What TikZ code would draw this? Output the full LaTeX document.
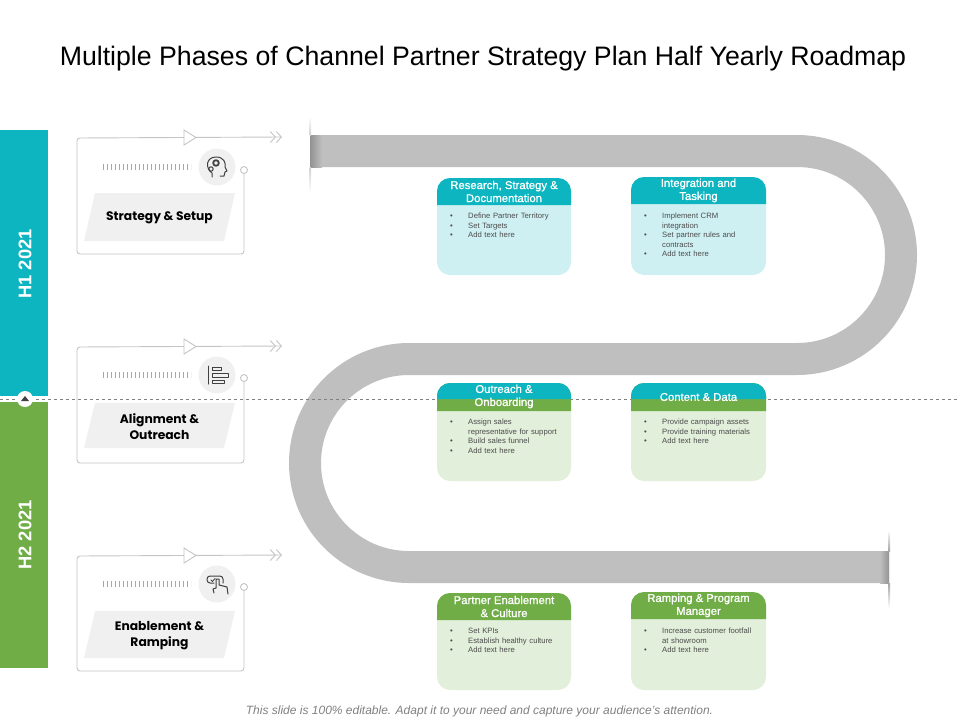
\documentclass[tikz,border=0pt]{standalone}
\usepackage{fontspec}
\usepackage{xcolor}
\setmainfont{Liberation Sans}
\newfontfamily\cardfont{Poppins}
\newfontfamily\headfont[FakeBold=1]{Liberation Sans}
\usetikzlibrary{
    arrows.meta,
    positioning
}
\definecolor{tealbar}{HTML}{0CB5BF}
\definecolor{greenbar}{HTML}{70AD47}
\definecolor{tealbody}{HTML}{CFF0F3}
\definecolor{greenbody}{HTML}{E2EFDA}
\definecolor{roadgray}{HTML}{BFBFBF}
\definecolor{cardgray}{HTML}{C4C4C4}
\definecolor{softgray}{HTML}{F0F0F0}
\definecolor{icongray}{HTML}{404040}
\tikzset{
    cardline/.style={draw=cardgray, line width=0.9pt},
    carddot/.style={circle, draw=cardgray, fill=white, line width=0.9pt, minimum size=7pt, inner sep=0pt},
    carddisc/.style={circle, fill=softgray, minimum size=37pt, inner sep=0pt},
    cardtitle/.style={align=center, font=\cardfont\bfseries\fontsize{12.3}{16}\selectfont, text=black},
    tickstrip/.style={draw=gray!70, line width=6pt, dash pattern=on 0.8pt off 3.2pt},
    iconline/.style={draw=icongray, line width=1pt, line join=round, line cap=round},
    barlabel/.style={rotate=90, font=\bfseries\fontsize{18.3}{20}\selectfont, text=white},
    tealpanel/.style={fill=tealbody, rounded corners=13pt, minimum width=134pt, minimum height=97pt, inner sep=0pt},
    greenpanel/.style={fill=greenbody, rounded corners=13pt, minimum width=134pt, minimum height=97pt, inner sep=0pt},
    panelhead/.style={align=center, text=white, font=\headfont\fontsize{11.3}{13}\selectfont},
    panellist/.style={anchor=north west, text width=122pt, inner sep=0pt, text=black!70, font=\fontsize{7.7}{9.5}\selectfont}
}
\newcommand{\itm}[1]{\par\hangindent=18pt\hangafter=1\noindent\makebox[18pt][l]{\textbullet}#1}

\begin{document}
\begin{tikzpicture}[x=1pt, y=-1pt]
    \useasboundingbox (0, 0) rectangle (960, 720);

    \node[font=\fontsize{26.7}{30}\selectfont] (title) at (483, 58.5) {Multiple Phases of Channel Partner Strategy Plan Half Yearly Roadmap};
    \node[font=\itshape\fontsize{12}{14}\selectfont, text=gray] (footer) at (479.5, 711.5) {This slide is 100\% editable. Adapt it to your need and capture your audience's attention.};

    % road
    \draw[roadgray, line width=32pt] (310, 151) -- (797, 151)
        arc[start angle=-90, end angle=90, radius=104] -- (409, 359)
        arc[start angle=-90, end angle=-270, radius=104] -- (889, 567);
    \shade[left color=gray!85, right color=roadgray] (310, 135) rectangle (322, 167);
    \shade[left color=roadgray, right color=gray!85] (880, 551) rectangle (889, 583);
    \shade[top color=white, bottom color=gray!35] (309.5, 116) rectangle (311, 135);
    \shade[top color=gray!35, bottom color=white] (309.5, 167) rectangle (311, 193);
    \shade[top color=white, bottom color=gray!70] (888, 530) rectangle (890, 551);
    \shade[top color=gray!70, bottom color=white] (888, 583) rectangle (890, 608);

    % half year bars
    \draw[gray, dashed, line width=0.8pt] (0, 399) -- (965, 399);
    \fill[tealbar] (0, 130) rectangle (48, 396);
    \fill[greenbar] (0, 402) rectangle (48, 668);
    \node[barlabel] (hone) at (25, 264) {H1 2021};
    \node[barlabel] (htwo) at (25, 535) {H2 2021};
    \node[circle, fill=white, minimum size=16pt, inner sep=0pt] (mark) at (25, 399) {};
    \fill[icongray] (21, 401) -- (25, 396) -- (29, 401) -- cycle;

    % strategy card
    \node[carddot] (dotA) at (244, 170) {};
    \draw[cardline, rounded corners=3pt, -{Straight Barb[length=5pt, width=11pt] Straight Barb[length=5pt, width=11pt]}]
        (dotA) -- (244, 254) -- (77, 254) -- (77, 138) -- (282, 137);
    \draw[cardline, fill=white] (184, 130) -- (196, 137.5) -- (184, 145) -- cycle;
    \draw[tickstrip] (103, 167) -- (191, 167);
    \node[carddisc] (discA) at (217, 167) {};
    \fill[softgray] (95, 193) -- (235, 193) -- (224, 241) -- (84, 241) -- cycle;
    \node[cardtitle] (cardA) at (159.5, 217.5) {Strategy \& Setup};
    \draw[iconline] (212, 177) -- (212, 173) .. controls (205, 168) and (206, 157) .. (216, 157)
        .. controls (224, 157) and (226, 163) .. (225, 167) -- (227, 171) -- (225, 172) -- (224, 176) -- (220, 176);
    \draw[iconline, line width=1.8pt] (216, 163) circle (2.8);
    \draw[iconline] (211, 169) circle (2.2);

    % alignment card
    \node[carddot] (dotB) at (244, 378) {};
    \draw[cardline, rounded corners=3pt, -{Straight Barb[length=5pt, width=11pt] Straight Barb[length=5pt, width=11pt]}]
        (dotB) -- (244, 463) -- (77, 463) -- (77, 347) -- (282, 346);
    \draw[cardline, fill=white] (184, 339) -- (196, 346.5) -- (184, 354) -- cycle;
    \draw[tickstrip] (103, 375) -- (191, 375);
    \node[carddisc] (discB) at (217, 375) {};
    \fill[softgray] (95, 403) -- (235, 403) -- (224, 448) -- (84, 448) -- cycle;
    \node[cardtitle] (cardB) at (159.5, 426.5) {Alignment \&\\Outreach};
    \draw[iconline] (208, 366) -- (208, 384);
    \draw[iconline] (212, 367) rectangle (221, 370.5);
    \draw[iconline] (212, 373.5) rectangle (228, 377);
    \draw[iconline] (212, 380) rectangle (224, 383.5);

    % enablement card
    \node[carddot] (dotC) at (244, 587) {};
    \draw[cardline, rounded corners=3pt, -{Straight Barb[length=5pt, width=11pt] Straight Barb[length=5pt, width=11pt]}]
        (dotC) -- (244, 671) -- (77, 671) -- (77, 556) -- (282, 555);
    \draw[cardline, fill=white] (184, 548) -- (196, 555.5) -- (184, 563) -- cycle;
    \draw[tickstrip] (103, 584) -- (191, 584);
    \node[carddisc] (discC) at (217, 584) {};
    \fill[softgray] (95, 611) -- (235, 611) -- (224, 658) -- (84, 658) -- cycle;
    \node[cardtitle] (cardC) at (159.5, 635.5) {Enablement \&\\Ramping};
    \draw[iconline, rounded corners=3pt] (214, 583) -- (207, 583) -- (207, 576) -- (223, 576) -- (223, 583);
    \draw[iconline, line width=0.8pt] (211, 580) -- (212.5, 581.5) -- (215, 578.5);
    \draw[iconline] (214, 593) -- (213, 589) -- (216, 588) -- (216, 579) -- (219, 579) -- (219, 585) -- (227, 587) -- (228, 594);

    % panels first row
    \node[tealpanel] (bodyA) at (504, 226.5) {};
    \fill[tealbar] (437, 205) {[rounded corners=13pt] -- (437, 178) -- (571, 178)} -- (571, 205) -- cycle;
    \node[panelhead] (headA) at (504, 191.5) {Research, Strategy \&\\Documentation};
    \node[panellist] (listA) at (450, 209) {\itm{Define Partner Territory}\itm{Set Targets}\itm{Add text here}};

    \node[tealpanel, minimum width=135pt, minimum height=98pt] (bodyB) at (698.5, 226) {};
    \fill[tealbar] (631, 204) {[rounded corners=13pt] -- (631, 177) -- (766, 177)} -- (766, 204) -- cycle;
    \node[panelhead] (headB) at (698.5, 190.5) {Integration and\\Tasking};
    \node[panellist] (listB) at (644, 209) {\itm{Implement CRM\newline integration}\itm{Set partner rules and\newline contracts}\itm{Add text here}};

    % panels second row
    \node[greenpanel, minimum height=98pt] (bodyC) at (504, 432) {};
    \fill[greenbar] (437, 411) {[rounded corners=13pt] -- (437, 383) -- (571, 383)} -- (571, 411) -- cycle;
    \fill[tealbar] (437, 399) {[rounded corners=13pt] -- (437, 383) -- (571, 383)} -- (571, 399) -- cycle;
    \node[panelhead] (headC) at (504, 396.5) {Outreach \&\\Onboarding};
    \node[panellist] (listC) at (450, 415) {\itm{Assign sales\newline representative for support}\itm{Build sales funnel}\itm{Add text here}};

    \node[greenpanel, minimum width=135pt, minimum height=98pt] (bodyD) at (698.5, 432) {};
    \fill[greenbar] (631, 411) {[rounded corners=13pt] -- (631, 383) -- (766, 383)} -- (766, 411) -- cycle;
    \fill[tealbar] (631, 399) {[rounded corners=13pt] -- (631, 383) -- (766, 383)} -- (766, 399) -- cycle;
    \node[panelhead] (headD) at (698.5, 397) {Content \& Data};
    \node[panellist] (listD) at (644, 415) {\itm{Provide campaign assets}\itm{Provide training materials}\itm{Add text here}};

    % panels third row
    \node[greenpanel] (bodyE) at (504, 641.5) {};
    \fill[greenbar] (437, 620) {[rounded corners=13pt] -- (437, 593) -- (571, 593)} -- (571, 620) -- cycle;
    \node[panelhead] (headE) at (504, 606.5) {Partner Enablement\\\& Culture};
    \node[panellist] (listE) at (450, 624) {\itm{Set KPIs}\itm{Establish healthy culture}\itm{Add text here}};

    \node[greenpanel, minimum width=135pt, minimum height=98pt] (bodyF) at (698.5, 641) {};
    \fill[greenbar] (631, 619) {[rounded corners=13pt] -- (631, 592) -- (766, 592)} -- (766, 619) -- cycle;
    \node[panelhead] (headF) at (698.5, 605.5) {Ramping \& Program\\Manager};
    \node[panellist] (listF) at (644, 624) {\itm{Increase customer footfall\newline at showroom}\itm{Add text here}};
\end{tikzpicture}
\end{document}
